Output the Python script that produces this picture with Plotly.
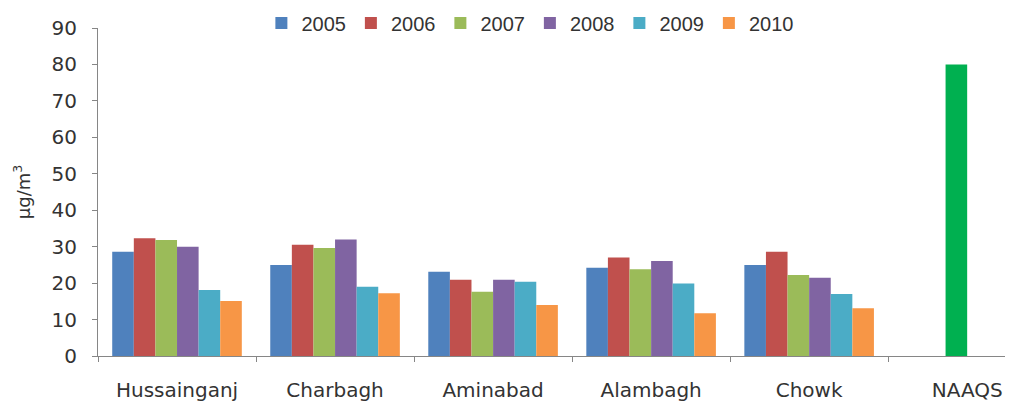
import plotly.graph_objects as go

categories = ["Hussainganj", "Charbagh", "Aminabad", "Alambagh", "Chowk", "NAAQS"]
years = ["2005", "2006", "2007", "2008", "2009", "2010"]
v2005 = [28.6, 25.0, 23.1, 24.2, 25.0, None]
v2006 = [32.3, 30.5, 20.9, 27.0, 28.6, None]
v2007 = [31.8, 29.6, 17.6, 23.8, 22.2, 80]
v2008 = [30.0, 32.0, 20.9, 26.1, 21.5, None]
v2009 = [18.1, 19.0, 20.4, 19.9, 17.0, None]
v2010 = [15.1, 17.2, 14.0, 11.7, 13.1, None]
series = [v2005, v2006, v2007, v2008, v2009, v2010]
colors = ["#4F81BD", "#C0504D", "#9BBB59", "#8064A2", "#4BACC6", "#F79646"]
naaqs_color = "#00B050"

fig = go.Figure()
for name, vals, col in zip(years, series, colors):
    if name == "2007":
        mc = [col] * (len(categories) - 1) + [naaqs_color]
    else:
        mc = col
    fig.add_trace(go.Bar(name=name, x=categories, y=vals, marker=dict(color=mc, line=dict(width=0))))

# the page body has an 8px default margin, so the figure is sized to fit what remains
fig.update_layout(
    barmode="group",
    bargap=0.18,
    bargroupgap=0,
    width=1005, height=397,
    margin=dict(l=90, r=0, t=20, b=49, autoexpand=False),
    plot_bgcolor="white", paper_bgcolor="white",
    font=dict(family="DejaVu Sans", size=20, color="#333333"),
    legend=dict(orientation="h", x=0.472, xanchor="center", y=1.015, yanchor="middle",
                font=dict(family="Liberation Sans", size=20, color="#333333"),
                itemwidth=30, tracegroupgap=0),
    showlegend=True,
)
fig.update_xaxes(range=[-0.5, 5.29], showline=True, linecolor="#868686", linewidth=1,
                 ticks="outside", tickson="boundaries", ticklen=5, tickcolor="#868686",
                 showgrid=False, tickfont=dict(size=20), ticklabelstandoff=16)
fig.update_yaxes(range=[0, 90], dtick=10, showline=True, linecolor="#868686", linewidth=1,
                 ticks="outside", ticklen=5, tickcolor="#868686", showgrid=False, zeroline=False,
                 tickfont=dict(size=20), ticklabelstandoff=11,
                 title=dict(text="μg/m<sup>3</sup>", font=dict(size=18), standoff=16))
fig.write_html("out.html")
